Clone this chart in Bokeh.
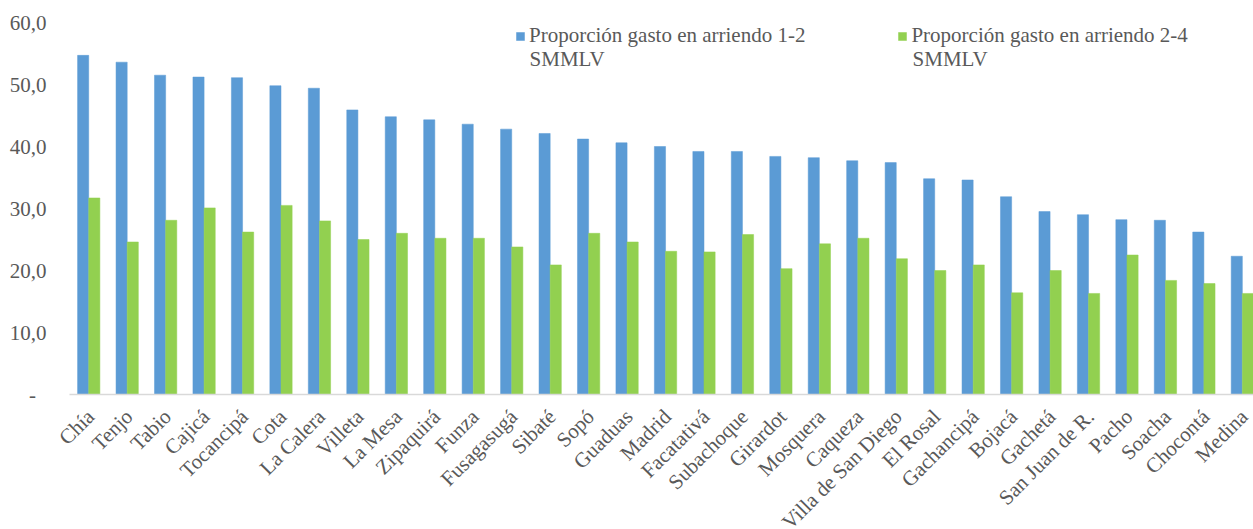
from bokeh.plotting import figure
from bokeh.models import (ColumnDataSource, Range1d, Legend, LegendItem, LabelSet, Label)
from bokeh.core.properties import value
from bokeh.transform import dodge
from bokeh.embed import file_html
from bokeh.resources import INLINE

municipios = ["Chía", "Tenjo", "Tabio", "Cajicá", "Tocancipá", "Cota", "La Calera",
              "Villeta", "La Mesa", "Zipaquirá", "Funza", "Fusagasugá", "Sibaté", "Sopó",
              "Guaduas", "Madrid", "Facatativá", "Subachoque", "Girardot", "Mosquera",
              "Caqueza", "Villa de San Diego", "El Rosal", "Gachancipá", "Bojacá",
              "Gachetá", "San Juan de R.", "Pacho", "Soacha", "Chocontá", "Medina"]
gasto_1_2 = [54.7, 53.6, 51.5, 51.2, 51.1, 49.8, 49.4, 45.9, 44.8, 44.3, 43.6, 42.8,
             42.1, 41.2, 40.6, 40.0, 39.2, 39.2, 38.4, 38.2, 37.7, 37.4, 34.8, 34.6,
             31.9, 29.5, 29.0, 28.2, 28.1, 26.2, 22.3]
gasto_2_4 = [31.7, 24.6, 28.1, 30.1, 26.2, 30.5, 28.0, 25.0, 26.0, 25.2, 25.2, 23.8,
             20.9, 26.0, 24.6, 23.1, 23.0, 25.8, 20.3, 24.3, 25.2, 21.9, 20.0, 20.9,
             16.4, 20.0, 16.3, 22.5, 18.4, 17.9, 16.3]
y_ticks = [0, 10, 20, 30, 40, 50, 60]
y_labels = ["-\u00a0\u00a0", "10,0", "20,0", "30,0", "40,0", "50,0", "60,0"]
serie_1 = "Proporción gasto en arriendo 1-2"
serie_2 = "Proporción gasto en arriendo 2-4"
unidad = "SMMLV"

n = len(municipios)
idx = list(range(n))
src = ColumnDataSource(dict(idx=idx, a=gasto_1_2, b=gasto_2_4, name=municipios,
                            ly=[-3.0] * n))
ysrc = ColumnDataSource(dict(y=y_ticks, text=y_labels, x=[-0.5] * len(y_ticks)))

FONT = "Liberation Serif"
GRAY = "#595959"

# The frame covers the whole canvas: 0..60 spans canvas rows 22..394 (6.2 px per unit),
# category labels are drawn below the baseline and value labels to the left.
PX = 372 / 60
CAT = 38.45
y_bottom = -135 / PX
y_top = 60 + 22 / PX
x_start = -0.5 - 69 / CAT
p = figure(width=1253, height=529, output_backend="svg", toolbar_location=None,
           x_range=Range1d(x_start, 30.29), y_range=Range1d(y_bottom, y_top),
           x_axis_location=None, y_axis_location=None,
           min_border_left=0, min_border_right=0, min_border_top=0, min_border_bottom=0)
p.outline_line_color = None
p.background_fill_color = "white"
p.border_fill_color = "white"
p.xgrid.visible = False
p.ygrid.visible = False

r1 = p.vbar(x=dodge("idx", -0.145), top="a", width=0.29, source=src,
            fill_color="#5b9bd5", line_color="#5b9bd5", line_width=0.5)
r2 = p.vbar(x=dodge("idx", 0.145), top="b", width=0.29, source=src,
            fill_color="#92d050", line_color="#92d050", line_width=0.5)

# category axis line
p.segment(x0=[-0.5], y0=[0], x1=[n - 0.5], y1=[0], line_color="#d9d9d9", line_width=1.5)

# category labels (rotated 45 degrees, ending at each category)
labels = LabelSet(x=dodge("idx", 0.05), y="ly", text="name", source=src,
                  angle=0.785398, text_align="right", text_baseline="middle",
                  text_font=value(FONT), text_font_size="21px", text_color=GRAY)
p.add_layout(labels)

# value axis labels
ylabels = LabelSet(x="x", y="y", text="text", source=ysrc, x_offset=-23,
                   text_align="right", text_baseline="middle",
                   text_font=value(FONT), text_font_size="21px", text_color=GRAY)
p.add_layout(ylabels)

legend = Legend(items=[LegendItem(label=serie_1, renderers=[r1]),
                       LegendItem(label=serie_2, renderers=[r2])],
                orientation="horizontal", location=(515, 481),
                padding=0, margin=0, spacing=92, border_line_color=None,
                background_fill_alpha=0, glyph_width=10, glyph_height=10,
                label_standoff=4, label_text_font=FONT, label_text_font_size="21px",
                label_text_color=GRAY)
p.add_layout(legend, "center")

# second line of each legend entry
for sx in (529, 912):
    p.add_layout(Label(x=x_start + sx / CAT, y=60 - (58 - 22) / PX, text=unidad,
                       text_align="left", text_baseline="middle",
                       text_font=FONT, text_font_size="21px", text_color=GRAY))

open("out.html", "w").write(file_html(p, INLINE))
